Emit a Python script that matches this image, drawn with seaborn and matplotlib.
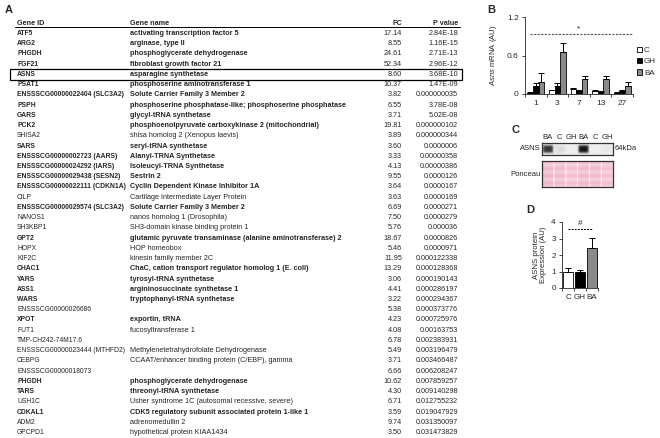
import numpy as np
import pandas as pd
import matplotlib
matplotlib.use("Agg")
import matplotlib.pyplot as plt
from matplotlib import font_manager
from matplotlib.patches import Rectangle
import seaborn as sns

sns.set_theme(style="ticks")
plt.rcParams['font.family'] = ['Liberation Sans', 'DejaVu Sans']
plt.rcParams['mathtext.fontset'] = 'custom'
plt.rcParams['mathtext.it'] = 'Liberation Sans:italic'
plt.rcParams['mathtext.rm'] = 'Liberation Sans'

# ---------------- Panel A data ----------------
gene_ids = ["ATF5", "ARG2", "PHGDH", "FGF21", "ASNS", "PSAT1", "ENSSSCG00000022404 (SLC3A2)",
            "PSPH", "GARS", "PCK2", "SHISA2", "SARS", "ENSSSCG00000002723 (AARS)",
            "ENSSSCG00000024292 (IARS)", "ENSSSCG00000029438 (SESN2)", "ENSSSCG00000022111 (CDKN1A)",
            "CILP", "ENSSSCG00000029574 (SLC3A2)", "NANOS1", "SH3KBP1", "GPT2", "HOPX", "KIF2C",
            "CHAC1", "YARS", "ASS1", "WARS", "ENSSSCG00000026686", "XPOT", "FUT1",
            "TMP-CH242-74M17.6", "ENSSSCG00000023444 (MTHFD2)", "CEBPG", "ENSSSCG00000018073",
            "PHGDH", "TARS", "USH1C", "CDKAL1", "ADM2", "GPCPD1"]
gene_names = ["activating transcription factor 5", "arginase, type II", "phosphoglycerate dehydrogenase",
              "fibroblast growth factor 21", "asparagine synthetase", "phosphoserine aminotransferase 1",
              "Solute Carrier Family 3 Member 2", "phosphoserine phosphatase-like; phosphoserine phosphatase",
              "glycyl-tRNA synthetase", "phosphoenolpyruvate carboxykinase 2 (mitochondrial)",
              "shisa homolog 2 (Xenopus laevis)", "seryl-tRNA synthetase", "Alanyl-TRNA Synthetase",
              "Isoleucyl-TRNA Synthetase", "Sestrin 2", "Cyclin Dependent Kinase Inhibitor 1A",
              "Cartilage Intermediate Layer Protein", "Solute Carrier Family 3 Member 2",
              "nanos homolog 1 (Drosophila)", "SH3-domain kinase binding protein 1",
              "glutamic pyruvate transaminase (alanine aminotransferase) 2", "HOP homeobox",
              "kinesin family member 2C", "ChaC, cation transport regulator homolog 1 (E. coli)",
              "tyrosyl-tRNA synthetase", "argininosuccinate synthetase 1", "tryptophanyl-tRNA synthetase",
              "", "exportin, tRNA", "fucosyltransferase 1", "",
              "Methylenetetrahydrofolate Dehydrogenase", "CCAAT/enhancer binding protein (C/EBP), gamma",
              "", "phosphoglycerate dehydrogenase", "threonyl-tRNA synthetase",
              "Usher syndrome 1C (autosomal recessive, severe)",
              "CDK5 regulatory subunit associated protein 1-like 1", "adrenomedullin 2",
              "hypothetical protein KIAA1434"]
fold_change = [17.14, 8.55, 24.61, 52.34, 8.60, 10.37, 3.82, 6.55, 3.71, 19.81, 3.89, 3.60, 3.33,
               4.13, 9.55, 3.64, 3.63, 6.69, 7.50, 5.76, 18.67, 5.46, 11.95, 13.29, 3.06, 4.41, 3.22,
               5.38, 4.23, 4.08, 6.78, 5.49, 3.71, 6.66, 10.62, 4.30, 6.71, 3.59, 9.74, 3.50]
p_values = ["2.84E-18", "1.16E-15", "2.71E-13", "2.96E-12", "3.68E-10", "1.47E-09", "0.000000035",
            "3.78E-08", "5.02E-08", "0.000000102", "0.000000344", "0.0000006", "0.00000358",
            "0.00000386", "0.0000126", "0.0000167", "0.0000169", "0.0000271", "0.0000279", "0.000036",
            "0.0000826", "0.0000971", "0.000122338", "0.000128368", "0.000190143", "0.000286197",
            "0.000294367", "0.000373776", "0.000725976", "0.00163753", "0.002383931", "0.003196479",
            "0.003466487", "0.006208247", "0.007859257", "0.009140298", "0.012755232", "0.019047929",
            "0.031350097", "0.031473829"]
bold_rows = [1, 1, 1, 1, 1, 1, 1, 1, 1, 1, 0, 1, 1, 1, 1, 1, 0, 1, 0, 0, 1, 0, 0, 1, 1, 1, 1, 0, 1, 0,
             0, 0, 0, 0, 1, 1, 0, 1, 0, 0]
highlight_gene = "ASNS"
table_headers = ["Gene ID", "Gene name", "FC", "P value"]

# ---------------- Panel B data ----------------
b_days = ["1", "3", "7", "13", "27"]
b_groups = ["C", "GH", "BA"]
b_C = [0.02, 0.06, 0.08, 0.05, 0.02]
b_GH = [0.13, 0.13, 0.05, 0.03, 0.05]
b_BA = [0.19, 0.66, 0.23, 0.23, 0.12]
b_C_err = [0.01, 0.01, 0.01, 0.01, 0.005]
b_GH_err = [0.04, 0.04, 0.01, 0.01, 0.01]
b_BA_err = [0.13, 0.13, 0.05, 0.05, 0.06]
b_sig_level = 0.94

# ---------------- Panel C data ----------------
c_lanes = ["BA", "C", "GH", "BA", "C", "GH"]
c_asns_intensity = [0.85, 0.08, 0.0, 1.0, 0.0, 0.02]
c_ponceau_intensity = [0.8, 0.78, 0.72, 0.8, 0.76, 0.72]

# ---------------- Panel D data ----------------
d_groups = ["C", "GH", "BA"]
d_values = [1.0, 0.95, 2.4]
d_errors = [0.22, 0.15, 0.65]
d_sig_level = 3.6

colors = {"C": "white", "GH": "black", "BA": "#8a8a8a"}

W, H = 660, 438
fig = plt.figure(figsize=(W / 100, H / 100), dpi=100)

installed = {f.name for f in font_manager.fontManager.ttflist}
if "Liberation Sans Narrow" in installed:
    id_family, id_fs = ["Liberation Sans Narrow"], 5.6
else:
    id_family, id_fs = ["Liberation Sans"], 4.9


def px_axes(x0, y0, x1, y1):
    return fig.add_axes([x0 / W, 1 - y1 / H, (x1 - x0) / W, (y1 - y0) / H])


# ---------------- Panel A: table ----------------
axA = fig.add_axes([0, 0, 1, 1])
axA.set_xlim(0, W)
axA.set_ylim(H, 0)
axA.axis("off")
axA.patch.set_alpha(0)
fs = 5.2
row0, dy = 33.0, 10.23
base_off = 2.0
col_id, col_name, col_fc, col_p = 17, 130, 402, 458
axA.text(5, 10, "A", fontsize=8, fontweight="bold", va="center")
hy = row0 - dy
kw = dict(fontsize=fs, va="baseline")
axA.text(col_id, hy + base_off, table_headers[0], fontweight="bold", **kw)
axA.text(col_name, hy + base_off, table_headers[1], fontweight="bold", **kw)
axA.text(col_fc, hy + base_off, table_headers[2], fontweight="bold", ha="right", **kw)
axA.text(col_p, hy + base_off, table_headers[3], fontweight="bold", ha="right", **kw)
axA.plot([15, 460], [27.4, 27.4], color="black", lw=0.7)
for i, (gid, gname, fc, pv, b) in enumerate(zip(gene_ids, gene_names, fold_change, p_values, bold_rows)):
    y = row0 + i * dy
    fw = "bold" if b else "normal"
    axA.text(col_id, y + base_off, gid, fontweight=fw, fontsize=id_fs, family=id_family, va="baseline")
    axA.text(col_name, y + base_off, gname, fontweight=fw, **kw)
    axA.text(col_fc, y + base_off, f"{fc:.2f}", ha="right", **kw)
    axA.text(col_p, y + base_off, pv, ha="right", **kw)
    if gid == highlight_gene:
        axA.add_patch(Rectangle((10, y - 4.8), 452, 10.8, fill=False, edgecolor="black", lw=0.9))

# ---------------- Panel B ----------------
axA.text(487, 10, "B", fontsize=8, fontweight="bold", va="center")
dfB = pd.DataFrame({
    "day": b_days * 3,
    "group": sum([[g] * len(b_days) for g in b_groups], []),
    "value": b_C + b_GH + b_BA,
})
errB = {"C": b_C_err, "GH": b_GH_err, "BA": b_BA_err}
axB = px_axes(525, 17, 633, 94)
sns.barplot(data=dfB, x="day", y="value", hue="group", hue_order=b_groups, order=b_days,
            palette=colors, edgecolor="black", linewidth=0.6, width=0.78, legend=False, ax=axB)
for cont, g in zip(axB.containers, b_groups):
    xs = [p.get_x() + p.get_width() / 2 for p in cont.patches]
    hs = [p.get_height() for p in cont.patches]
    axB.errorbar(xs, hs, yerr=[np.zeros(len(xs)), errB[g]], fmt="none", ecolor="black",
                 elinewidth=0.7, capsize=2, capthick=0.7)
axB.set_ylim(0, 1.2)
axB.set_yticks([0, 0.6, 1.2])
axB.set_yticklabels(["0", "0.6", "1.2"])
axB.set_xlim(-0.5, 4.5)
axB.set_xticks(range(len(b_days)))
axB.set_xticks(np.arange(-0.5, 5, 1), minor=True)
axB.tick_params(axis="x", which="major", length=0, labelsize=6, pad=4)
axB.tick_params(axis="x", which="minor", length=2.5, width=0.6)
axB.tick_params(axis="y", length=2.5, width=0.6, labelsize=6, pad=2)
axB.set_xlabel("")
axB.set_ylabel(r"$\mathit{Asns}$ mRNA (AU)", fontsize=5.5, labelpad=6)
for s in ["top", "right"]:
    axB.spines[s].set_visible(False)
for s in ["left", "bottom"]:
    axB.spines[s].set_linewidth(0.6)
axB.plot([-0.25, 4.45], [b_sig_level, b_sig_level], ls=(0, (2, 1.2)), color="#555555", lw=0.8)
axB.text(2.0, b_sig_level + 0.08, "*", fontsize=6, ha="center", va="center")
handles = [Rectangle((0, 0), 1, 1, facecolor=colors[g], edgecolor="black", lw=0.6) for g in b_groups]
axB.legend(handles, b_groups, loc="center left", bbox_to_anchor=(0.99, 0.42), frameon=False,
           fontsize=5.8, handlelength=0.7, handleheight=0.7, handletextpad=0.2, labelspacing=0.45,
           borderaxespad=0.2)

# ---------------- Panel C: blot ----------------
axA.text(511, 130, "C", fontsize=8, fontweight="bold", va="center")
nl = len(c_lanes)
hh, ww = 40, 240
yy = np.linspace(-1, 1, hh)[:, None]
xx = np.linspace(0, nl, ww, endpoint=False)[None, :]
lane_idx = np.clip(xx.astype(int), 0, nl - 1)
lane_pos = xx - lane_idx - 0.5
band = np.array(c_asns_intensity)[lane_idx] * np.exp(-(np.abs(yy) / 0.68) ** 4) \
    * np.exp(-(np.abs(lane_pos) / 0.44) ** 6)
gray = 0.93 - 0.85 * np.clip(band, 0, 1)
imgA = np.dstack([gray, gray, gray])
axC1 = px_axes(542, 143, 613, 155)
axC1.imshow(imgA, aspect="auto", extent=[0, nl, 0, 1], interpolation="bilinear")
axC1.set_xticks(np.arange(nl) + 0.5)
axC1.set_xticklabels(c_lanes, fontsize=5.5)
axC1.xaxis.tick_top()
axC1.tick_params(axis="x", length=0, pad=1.5)
axC1.set_yticks([])
for s in axC1.spines.values():
    s.set_linewidth(0.9)
    s.set_color("#333333")
axC1.text(-0.15, 0.5, "ASNS", fontsize=5.5, ha="right", va="center")
axC1.text(nl + 0.15, 0.5, "64kDa", fontsize=5.5, ha="left", va="center")

pon = np.array(c_ponceau_intensity)[lane_idx]
stripes = 0.18 * np.cos(np.linspace(0, 7 * np.pi, hh))[:, None]
sep = (np.abs(lane_pos) > 0.46)
lvl = np.clip(pon * (1 + stripes) * (~sep) + 0.08 * sep, 0, 1)
r = 1 - 0.06 * lvl
g = 1 - 0.30 * lvl
bch = 1 - 0.22 * lvl
imgP = np.dstack([np.broadcast_to(r, (hh, ww)), np.broadcast_to(g, (hh, ww)), np.broadcast_to(bch, (hh, ww))])
axC2 = px_axes(542, 161, 613, 187)
axC2.imshow(imgP, aspect="auto", extent=[0, nl, 0, 1], interpolation="bilinear")
axC2.set_xticks([])
axC2.set_yticks([])
for s in axC2.spines.values():
    s.set_linewidth(0.9)
    s.set_color("#333333")
axC2.text(-0.15, 0.5, "Ponceau", fontsize=5.5, ha="right", va="center")

# ---------------- Panel D ----------------
axA.text(526, 210, "D", fontsize=8, fontweight="bold", va="center")
dfD = pd.DataFrame({"group": d_groups, "value": d_values})
axD = px_axes(562, 222, 598, 288)
sns.barplot(data=dfD, x="group", y="value", hue="group", order=d_groups, hue_order=d_groups,
            palette=colors, edgecolor="black", linewidth=0.6, width=0.8, legend=False, ax=axD)
xsD, hsD = [], []
for cont in axD.containers:
    for p in cont.patches:
        xsD.append(p.get_x() + p.get_width() / 2)
        hsD.append(p.get_height())
axD.errorbar(xsD, hsD, yerr=[np.zeros(len(xsD)), d_errors], fmt="none", ecolor="black",
             elinewidth=0.7, capsize=2, capthick=0.7)
axD.set_ylim(0, 4)
axD.set_yticks([0, 1, 2, 3, 4])
axD.set_xlim(-0.5, 2.5)
axD.set_xticks(np.arange(-0.5, 3, 1), minor=True)
axD.tick_params(axis="x", which="major", length=0, labelsize=5.8, pad=4)
axD.tick_params(axis="x", which="minor", length=2.5, width=0.6)
axD.tick_params(axis="y", length=2.5, width=0.6, labelsize=5.8, pad=2)
axD.set_xlabel("")
axD.set_ylabel("ASNS protein\nExpression (AU)", fontsize=5.6, labelpad=3, linespacing=1.0)
for s in ["top", "right"]:
    axD.spines[s].set_visible(False)
for s in ["left", "bottom"]:
    axD.spines[s].set_linewidth(0.6)
axD.plot([0.0, 2.0], [d_sig_level, d_sig_level], ls=(0, (2, 1.2)), color="black", lw=0.7)
axD.text(1.0, d_sig_level + 0.28, "#", fontsize=6, ha="center", va="center")

fig.savefig("out.png", dpi=100)
